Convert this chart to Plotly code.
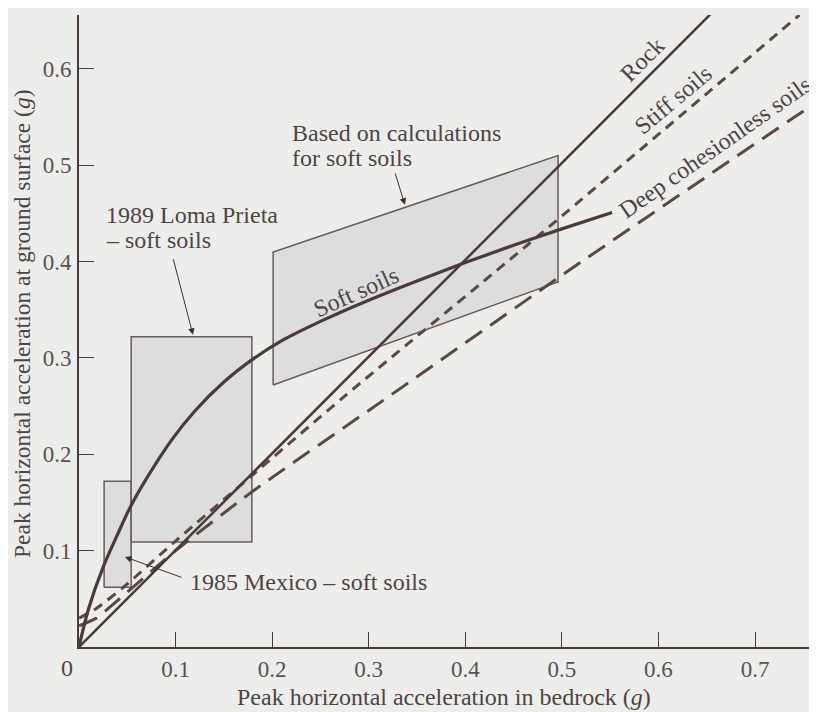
import plotly.graph_objects as go

# ---- data (values in g) ----
rock_x = [0.0, 0.662]
rock_y = [0.0, 0.665]

stiff_x = [0.0, 0.018, 0.046, 0.10, 0.179, 0.277, 0.464, 0.746]
stiff_y = [0.030, 0.040, 0.062, 0.110, 0.178, 0.262, 0.417, 0.656]

deep_x = [0.0, 0.018, 0.035, 0.10, 0.179, 0.315, 0.519, 0.757]
deep_y = [0.022, 0.030, 0.044, 0.100, 0.161, 0.256, 0.399, 0.561]

soft_x = [0.0, 0.01, 0.025, 0.04, 0.053, 0.07, 0.096, 0.12, 0.15, 0.179, 0.21, 0.25, 0.30, 0.35, 0.40, 0.45, 0.50, 0.552]
soft_y = [0.0, 0.040, 0.083, 0.117, 0.145, 0.175, 0.215, 0.245, 0.275, 0.298, 0.318, 0.338, 0.360, 0.380, 0.399, 0.417, 0.434, 0.451]

mexico_box_x = [0.026, 0.054, 0.054, 0.026, 0.026]
mexico_box_y = [0.062, 0.062, 0.172, 0.172, 0.062]

loma_box_x = [0.054, 0.179, 0.179, 0.054, 0.054]
loma_box_y = [0.109, 0.109, 0.322, 0.322, 0.109]

calc_box_x = [0.201, 0.496, 0.496, 0.201, 0.201]
calc_box_y = [0.272, 0.379, 0.510, 0.410, 0.272]

x_ticks = [0.1, 0.2, 0.3, 0.4, 0.5, 0.6, 0.7]
x_tick_labels = ["0.1", "0.2", "0.3", "0.4", "0.5", "0.6", "0.7"]
y_ticks = [0.1, 0.2, 0.3, 0.4, 0.5, 0.6]
y_tick_labels = ["0.1", "0.2", "0.3", "0.4", "0.5", "0.6"]

# ---- styles ----
BG = "#ededeb"
LINE = "#4a3a3a"
DASHC = "#5a4944"
BOXFILL = "#dcdddc"
BOXLINE = "#6a5a5a"
TXT = "#4d4545"
FONT = "Liberation Serif"
FS = 24

fig = go.Figure()

for bx, by in [(mexico_box_x, mexico_box_y), (loma_box_x, loma_box_y), (calc_box_x, calc_box_y)]:
    fig.add_trace(go.Scatter(x=bx, y=by, mode="lines", fill="toself", fillcolor=BOXFILL,
                             line=dict(color=BOXLINE, width=1.5), hoverinfo="skip", showlegend=False))

fig.add_trace(go.Scatter(x=deep_x, y=deep_y, mode="lines", line=dict(color=DASHC, width=3, dash="20px,10px", shape="spline", smoothing=0.6), showlegend=False))
fig.add_trace(go.Scatter(x=stiff_x, y=stiff_y, mode="lines", line=dict(color=DASHC, width=3, dash="10px,7px", shape="spline", smoothing=0.6), showlegend=False))
fig.add_trace(go.Scatter(x=rock_x, y=rock_y, mode="lines", line=dict(color=LINE, width=2.5), showlegend=False))
fig.add_trace(go.Scatter(x=soft_x, y=soft_y, mode="lines", line=dict(color=LINE, width=3.2, shape="spline", smoothing=1.0), showlegend=False))

ann = []
def txt(x, y, s, angle=0, xanchor="center", ref="x", size=FS):
    ann.append(dict(x=x, y=y, xref="x" if ref == "x" else "paper", yref="y" if ref == "x" else "paper",
                    text=s, showarrow=False, textangle=angle,
                    xanchor=xanchor, yanchor="middle", borderpad=0,
                    font=dict(family=FONT, size=size, color=TXT)))

def arrow(x, y, ax, ay):
    ann.append(dict(x=x, y=y, ax=ax, ay=ay, xref="x", yref="y", axref="x", ayref="y",
                    text="", showarrow=True, arrowhead=2, arrowsize=1.3, arrowwidth=1, arrowcolor="#3a3030"))

txt(0.584, 0.610, "Rock", -45)
txt(0.615, 0.568, "Stiff soils", -40)
txt(0.659, 0.519, "Deep cohesionless soils", -35)
txt(0.287, 0.369, "Soft soils", -24)
txt(0.219, 0.534, "Based on calculations", xanchor="left")
txt(0.219, 0.508, "for soft soils", xanchor="left")
txt(0.027, 0.448, "1989 Loma Prieta", xanchor="left")
txt(0.027, 0.422, "– soft soils", xanchor="left")
txt(0.114, 0.0675, "1985 Mexico – soft soils", xanchor="left")
txt(-0.0164, -0.0332, "0", ref="paper")
txt(0.498, -0.0792, "Peak horizontal acceleration in bedrock (<i>g</i>)", ref="paper", size=24)
txt(-0.0778, 0.511, "Peak horizontal acceleration at ground surface (<i>g</i>)", angle=-90, ref="paper", size=23.5)

arrow(0.3375, 0.459, 0.327, 0.493)
arrow(0.118, 0.324, 0.0973, 0.404)
arrow(0.0476, 0.0935, 0.1077, 0.0717)

# page body has an 8px margin: plot area spans x 79..812, y 15..647 on screen
fig.update_layout(
    width=817, height=712,
    margin=dict(l=71, r=13, t=7, b=73),
    paper_bgcolor=BG, plot_bgcolor=BG,
    annotations=ann,
    xaxis=dict(range=[0, 0.759], showgrid=False, zeroline=False, showline=True, linecolor="#4a3a3a", linewidth=2,
               ticks="inside", ticklen=15, tickwidth=1, tickcolor="#4a3a3a",
               tickvals=x_ticks, ticktext=x_tick_labels, ticklabelstandoff=0,
               tickfont=dict(family=FONT, size=23, color="#5a5252")),
    yaxis=dict(range=[0, 0.656], showgrid=False, zeroline=False, showline=True, linecolor="#4a3a3a", linewidth=2,
               ticks="inside", ticklen=15, tickwidth=1, tickcolor="#4a3a3a",
               tickvals=y_ticks, ticktext=y_tick_labels, ticklabelstandoff=1,
               tickfont=dict(family=FONT, size=23, color="#5a5252")),
)

fig.write_html("out.html")
